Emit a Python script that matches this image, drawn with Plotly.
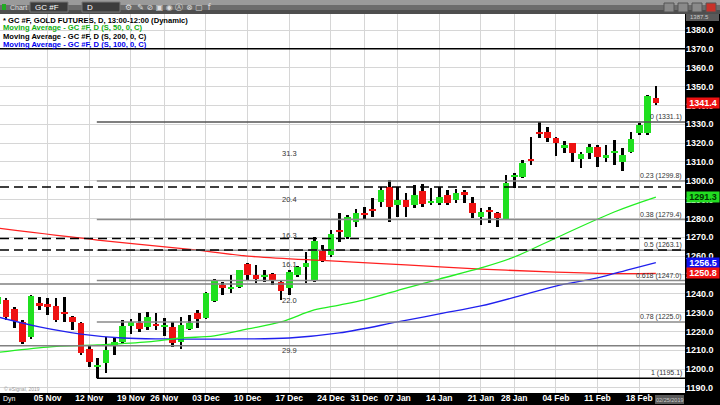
import plotly.graph_objects as go

# ---------------- data ----------------
tick_pos = [6, 11, 16, 20, 25, 30, 35, 40, 44, 48, 53, 58, 62, 67, 72, 77]
tick_text = ["05 Nov", "12 Nov", "19 Nov", "26 Nov", "03 Dec", "10 Dec", "17 Dec",
             "24 Dec", "31 Dec", "07 Jan", "14 Jan", "21 Jan", "28 Jan", "04 Feb",
             "11 Feb", "18 Feb"]

opens = [1234.6, 1236.7, 1231.9, 1225.0, 1217.0, 1235.1, 1234.6, 1233.5, 1229.8, 1227.7,
         1224.5, 1210.7, 1201.3, 1203.2, 1212.3, 1214.4, 1222.9, 1224.5, 1222.4, 1223.9,
         1222.4, 1222.4, 1214.4, 1221.3, 1229.8, 1227.1, 1236.2, 1244.6, 1243.0, 1243.6,
         1255.8, 1250.0, 1248.9, 1250.5, 1246.2, 1243.0, 1250.0, 1254.2, 1246.8, 1263.2,
         1260.6, 1273.3, 1270.1, 1278.1, 1282.9, 1285.0, 1288.7, 1296.7, 1287.1, 1289.8,
         1287.1, 1294.5, 1288.2, 1288.2, 1292.4, 1289.8, 1294.0, 1288.2, 1280.7, 1284.5,
         1282.9, 1279.7, 1302.2, 1302.0, 1310.8, 1325.4, 1325.9, 1322.7, 1317.4, 1320.0,
         1311.5, 1314.7, 1317.9, 1312.1, 1315.0, 1310.0, 1315.2, 1325.3, 1325.3, 1343.9]
highs = [1239.3, 1237.7, 1233.0, 1226.1, 1239.3, 1238.3, 1237.7, 1237.7, 1238.3, 1228.2,
         1225.0, 1212.3, 1205.9, 1217.0, 1216.5, 1226.1, 1226.6, 1229.8, 1230.3, 1229.8,
         1227.1, 1225.0, 1227.7, 1228.7, 1231.4, 1241.0, 1247.8, 1246.2, 1250.0, 1252.8,
         1256.3, 1255.3, 1252.6, 1251.0, 1247.3, 1252.6, 1254.7, 1262.2, 1270.1, 1265.9,
         1273.8, 1282.9, 1281.8, 1285.0, 1286.0, 1290.8, 1296.7, 1300.4, 1296.7, 1293.5,
         1297.7, 1298.3, 1296.1, 1296.7, 1295.1, 1295.6, 1295.1, 1291.4, 1285.5, 1286.0,
         1283.4, 1303.0, 1304.1, 1311.0, 1323.2, 1331.2, 1328.5, 1323.2, 1321.1, 1320.0,
         1315.2, 1319.5, 1319.0, 1319.0, 1321.6, 1317.4, 1325.9, 1330.6, 1345.5, 1350.2]
lows = [1233.0, 1226.1, 1221.8, 1213.3, 1216.0, 1231.4, 1228.7, 1225.0, 1225.0, 1220.8,
        1207.5, 1201.1, 1195.1, 1197.9, 1207.5, 1213.9, 1218.6, 1219.7, 1220.8, 1220.8,
        1217.5, 1211.7, 1210.7, 1220.8, 1221.8, 1226.6, 1235.6, 1239.3, 1240.4, 1243.0,
        1247.3, 1245.7, 1246.2, 1244.6, 1236.7, 1239.3, 1248.9, 1245.7, 1246.2, 1256.8,
        1259.5, 1267.5, 1269.1, 1275.4, 1279.7, 1280.7, 1286.0, 1278.1, 1280.7, 1280.7,
        1285.5, 1286.0, 1287.1, 1287.1, 1287.1, 1288.2, 1288.2, 1280.2, 1276.5, 1277.6,
        1275.4, 1279.2, 1296.1, 1301.5, 1308.3, 1322.7, 1320.5, 1313.1, 1314.7, 1310.0,
        1306.8, 1311.5, 1307.3, 1310.0, 1308.3, 1305.2, 1314.7, 1324.3, 1324.3, 1340.2]
closes = [1238.3, 1227.7, 1225.5, 1214.4, 1238.8, 1233.5, 1233.0, 1226.1, 1229.5, 1225.0,
          1208.5, 1203.8, 1201.8, 1210.1, 1214.4, 1222.9, 1225.0, 1221.3, 1227.7, 1222.9,
          1223.4, 1213.9, 1223.4, 1224.5, 1226.6, 1240.4, 1247.3, 1243.0, 1243.2, 1252.6,
          1250.0, 1247.8, 1250.0, 1247.3, 1241.5, 1251.5, 1254.2, 1256.3, 1268.0, 1257.9,
          1271.7, 1272.8, 1280.7, 1282.9, 1281.8, 1283.9, 1295.1, 1286.0, 1289.8, 1286.0,
          1292.4, 1287.6, 1289.2, 1291.4, 1288.2, 1293.5, 1292.4, 1282.9, 1283.4, 1283.9,
          1280.2, 1298.8, 1302.5, 1309.4, 1310.5, 1325.3, 1322.7, 1320.0, 1319.0, 1314.7,
          1314.2, 1317.9, 1312.6, 1313.7, 1315.3, 1313.7, 1322.1, 1329.6, 1345.0, 1341.4]

ma50_idx = [0, 6, 12, 18, 22, 26, 30, 34, 38, 41, 44, 49, 53, 58, 62, 67, 74, 79]
ma50_val = [1208.8, 1211.7, 1212.8, 1214.4, 1216.5, 1217.6, 1221.3, 1225.0, 1231.4, 1234.0,
            1236.7, 1243.0, 1247.8, 1253.7, 1259.5, 1269.6, 1283.4, 1291.3]
ma200_idx = [0, 12, 24, 30, 40, 49, 58, 67, 74, 79]
ma200_val = [1274.8, 1268.5, 1263.2, 1260.0, 1257.4, 1255.3, 1253.1, 1251.5, 1250.7, 1250.8]
ma100_idx = [0, 5, 10, 15, 20, 29, 35, 41, 48, 53, 58, 63, 67, 72, 76, 79]
ma100_val = [1227.7, 1222.4, 1218.6, 1216.5, 1216.0, 1216.0, 1216.5, 1219.2, 1225.0, 1229.3,
             1233.5, 1239.3, 1244.1, 1248.4, 1253.1, 1256.5]

fib_ratio = ["0", "0.23", "0.38", "0.5", "0.618", "0.78", "1"]
fib_price = [1331.1, 1299.8, 1279.4, 1263.1, 1247.0, 1225.0, 1195.1]
fib_start = 12

solid_levels = [1212.4, 1245.2]
top_level = 1370.0
dashed_levels = [1296.7, 1269.3, 1263.2]

count_text = ["31.3", "20.4", "16.3", "16.1", "22.0", "29.9"]
count_price = [1314.7, 1289.8, 1270.7, 1255.3, 1236.2, 1209.6]
count_idx = 35

y_ticks = list(range(1190, 1390, 10))

# ---------------- figure ----------------
GREEN = "#1fe01f"
RED = "#ee1111"
FONT = "Arial, Liberation Sans, sans-serif"

n = len(opens)
idx = list(range(n))
X0, X1 = 0.28, 82.5
Y0, Y1 = 1187.3, 1388.5

fig = go.Figure()

fig.add_trace(go.Bar(x=idx, base=lows, y=[h - l for h, l in zip(highs, lows)],
                     width=0.32, marker=dict(color="black", line=dict(width=0)),
                     hoverinfo="skip", showlegend=False))
body_base = [min(o, c) for o, c in zip(opens, closes)]
body_h = [max(abs(c - o), 0.6) for o, c in zip(opens, closes)]
body_col = [GREEN if c >= o else RED for o, c in zip(opens, closes)]
fig.add_trace(go.Bar(x=idx, base=body_base, y=body_h, width=0.8,
                     marker=dict(color=body_col, line=dict(width=0)),
                     hoverinfo="skip", showlegend=False))

fig.add_trace(go.Scatter(x=ma200_idx, y=ma200_val, mode="lines",
                         line=dict(color="#ff2020", width=1.3, shape="spline"), showlegend=False))
fig.add_trace(go.Scatter(x=ma100_idx, y=ma100_val, mode="lines",
                         line=dict(color="#2020ee", width=1.3, shape="spline"), showlegend=False))
fig.add_trace(go.Scatter(x=ma50_idx, y=ma50_val, mode="lines",
                         line=dict(color="#22ee22", width=1.3, shape="spline"), showlegend=False))

shapes = []
shapes.append(dict(type="line", xref="x", yref="y", x0=X0, x1=X1, y0=top_level, y1=top_level,
                   line=dict(color="black", width=1.5), layer="above"))
for lv in solid_levels:
    shapes.append(dict(type="line", xref="x", yref="y", x0=X0, x1=X1, y0=lv, y1=lv,
                       line=dict(color="#808080", width=1.5), layer="above"))
for r, p in zip(fib_ratio, fib_price):
    col = "#000000" if r == "1" else ("#555555" if r == "0" else "#8a8a8a")
    shapes.append(dict(type="line", xref="x", yref="y", x0=fib_start - 0.1, x1=X1, y0=p, y1=p,
                       line=dict(color=col, width=1.5), layer="above"))
for lv in dashed_levels:
    shapes.append(dict(type="line", xref="x", yref="y", x0=X0, x1=X1, y0=lv, y1=lv,
                       line=dict(color="black", width=1.5, dash="9px,5px"), layer="above"))

H = 379.0
def py(px):
    return (393 - px) / H
def pxx(px):
    return px / 685.0

shapes.append(dict(type="rect", xref="paper", yref="paper", x0=1.0, x1=1.06, y0=-0.05, y1=1.0,
                   fillcolor="black", line=dict(width=0), layer="below"))
shapes.append(dict(type="rect", xref="paper", yref="paper", x0=-0.01, x1=1.06, y0=-0.05, y1=0.0,
                   fillcolor="black", line=dict(width=0), layer="below"))
tb = [("#9a9a9a", py(5), py(-2)), ("#6c6c6c", py(10), py(5)), ("#4e4e4e", py(14), py(10))]
for c, a, b in tb:
    shapes.append(dict(type="rect", xref="paper", yref="paper", x0=-0.01, x1=1.06, y0=a, y1=b,
                       fillcolor=c, line=dict(width=0), layer="below"))
for a, b in [(30, 68), (82, 120)]:
    shapes.append(dict(type="rect", xref="paper", yref="paper", x0=pxx(a), x1=pxx(b),
                       y0=py(12), y1=py(2), fillcolor="#3c3c3c", line=dict(color="#777", width=1),
                       layer="above"))
shapes.append(dict(type="rect", xref="paper", yref="paper", x0=pxx(2), x1=pxx(6),
                   y0=py(10), y1=py(4), fillcolor="#22aa22", line=dict(width=0), layer="above"))
for a in [664, 678, 692]:
    shapes.append(dict(type="rect", xref="paper", yref="paper", x0=pxx(a), x1=pxx(a + 10),
                       y0=py(12), y1=py(3), fillcolor="#8a8a8a", line=dict(color="#555", width=1),
                       layer="above"))
shapes.append(dict(type="rect", xref="paper", yref="paper", x0=pxx(706), x1=pxx(716),
                   y0=py(12), y1=py(3), fillcolor="#c8322a", line=dict(color="#555", width=1),
                   layer="above"))
shapes.append(dict(type="rect", xref="paper", yref="paper", x0=pxx(686), x1=pxx(719),
                   y0=py(21), y1=py(14), fillcolor="#5a5a5a", line=dict(width=0), layer="above"))
shapes.append(dict(type="rect", xref="paper", yref="paper", x0=pxx(655), x1=pxx(684),
                   y0=py(404), y1=py(395), fillcolor="#5a5a5a", line=dict(width=0), layer="above"))

ann = []
legend_lines = [("* GC #F, GOLD FUTURES, D, 13:00-12:00 (Dynamic)", "#000000", 20),
                ("Moving Average - GC #F, D (S, 50, 0, C)", "#10b010", 28),
                ("Moving Average - GC #F, D (S, 200, 0, C)", "#000000", 36),
                ("Moving Average - GC #F, D (S, 100, 0, C)", "#0000ee", 44)]
for t, c, ypx in legend_lines:
    ann.append(dict(text=t, xref="paper", yref="paper", x=pxx(1), y=py(ypx), xanchor="left",
                    yanchor="middle", showarrow=False,
                    font=dict(family=FONT, size=7.6, color=c, weight="bold")))
for r, p in zip(fib_ratio, fib_price):
    ann.append(dict(text=f"{r} ({p:.1f})", xref="x", yref="y", x=X1 - 0.15, y=p, xanchor="right",
                    yanchor="bottom", showarrow=False, yshift=-1,
                    font=dict(family=FONT, size=7, color="#333333")))
for t, p in zip(count_text, count_price):
    ann.append(dict(text=t, xref="x", yref="y", x=count_idx, y=p, xanchor="center",
                    yanchor="middle", showarrow=False,
                    font=dict(family=FONT, size=7.5, color="#333333")))
tags = [(closes[-1], RED, "white"), (ma50_val[-1], "#22dd22", "#003300"),
        (ma100_val[-1], "#1010ee", "white"), (ma200_val[-1], RED, "white")]
for v, bg, fc in tags:
    ann.append(dict(text=f"{v:.1f}", xref="paper", yref="y", x=1.0015, y=v, xanchor="left",
                    yanchor="middle", showarrow=False, bgcolor=bg, borderpad=0,
                    width=32, height=10, align="center",
                    font=dict(family=FONT, size=9, color=fc, weight="bold")))
ann.append(dict(text="Chart", xref="paper", yref="paper", x=pxx(8), y=py(7), xanchor="left",
                yanchor="middle", showarrow=False, font=dict(family=FONT, size=7, color="#dddddd")))
ann.append(dict(text="GC #F", xref="paper", yref="paper", x=pxx(33), y=py(7), xanchor="left",
                yanchor="middle", showarrow=False, font=dict(family=FONT, size=8, color="#ffffff")))
ann.append(dict(text="D", xref="paper", yref="paper", x=pxx(85), y=py(7), xanchor="left",
                yanchor="middle", showarrow=False, font=dict(family=FONT, size=8, color="#ffffff")))
ann.append(dict(text="⚙  ✎ ⊘ ▣ ◉ Ⓐ ⊗ ▢  f", xref="paper", yref="paper", x=pxx(123), y=py(7),
                xanchor="left", yanchor="middle", showarrow=False,
                font=dict(family="DejaVu Sans", size=8, color="#dddddd")))
ann.append(dict(text="1387.5", xref="paper", yref="paper", x=pxx(688), y=py(17.5), xanchor="left",
                yanchor="middle", showarrow=False, font=dict(family=FONT, size=6, color="#cccccc")))
ann.append(dict(text="02/25/2019", xref="paper", yref="paper", x=pxx(669.5), y=py(399.5),
                xanchor="center", yanchor="middle", showarrow=False,
                font=dict(family=FONT, size=5.5, color="#cccccc")))
ann.append(dict(text="Dyn", xref="paper", yref="paper", x=pxx(1), y=py(399), xanchor="left",
                yanchor="middle", showarrow=False, font=dict(family=FONT, size=7, color="#ffffff")))
ann.append(dict(text="© eSignal, 2019", xref="paper", yref="paper", x=pxx(2), y=py(389),
                xanchor="left", yanchor="middle", showarrow=False,
                font=dict(family=FONT, size=5, color="#999999")))

fig.update_layout(
    width=720, height=405,
    margin=dict(l=0, r=35, t=14, b=12, pad=0, autoexpand=False),
    paper_bgcolor="white", plot_bgcolor="white",
    barmode="overlay", bargap=0,
    showlegend=False,
    shapes=shapes, annotations=ann,
    xaxis=dict(range=[X0, X1], tickvals=tick_pos, ticktext=tick_text, showgrid=True,
               gridcolor="#d6d6d6", gridwidth=1, zeroline=False, showline=False, ticks="",
               ticklabelstandoff=-2, automargin=False,
               tickfont=dict(family=FONT, size=8.5, color="white", weight="bold"),
               fixedrange=True),
    yaxis=dict(range=[Y0, Y1], side="right", tickvals=y_ticks,
               ticktext=[f"{v:.1f}" for v in y_ticks], showgrid=True, gridcolor="#d6d6d6",
               zeroline=False, showline=False, ticks="", automargin=False,
               tickfont=dict(family=FONT, size=9, color="white", weight="bold"),
               fixedrange=True),
)

fig.write_html("out.html", config={"displayModeBar": False},
               post_script="document.body.style.margin='0';document.body.style.padding='0';"
                           "document.body.style.overflow='hidden';")
